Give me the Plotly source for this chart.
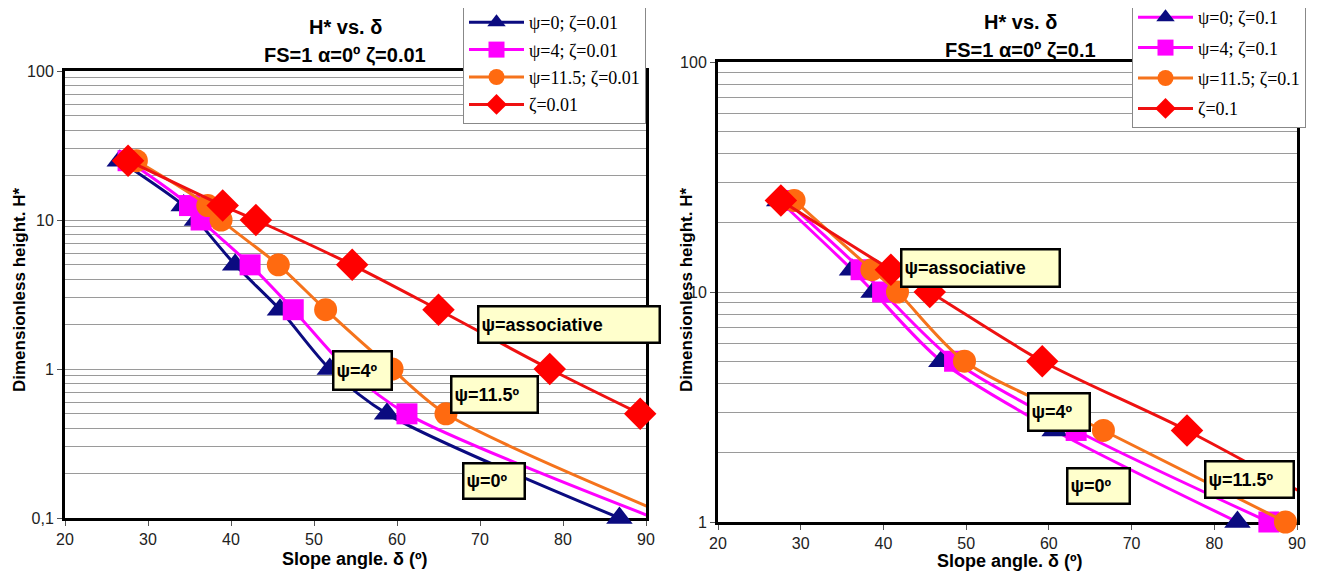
import plotly.graph_objects as go

# ---------------- data ----------------
# Left panel: zeta = 0.01
L_names = ["ψ=0; ζ=0.01", "ψ=4; ζ=0.01", "ψ=11.5; ζ=0.01", "ζ=0.01"]
L_psi0_x = [26.6, 34.3, 35.9, 40.5, 45.9, 51.9, 58.8, 86.8]
L_psi0_y = [25, 12.5, 10, 5, 2.5, 1, 0.5, 0.1]
L_psi4_x = [27.6, 35.0, 36.4, 42.3, 47.5, 54.0, 61.2, 91.0]
L_psi4_y = [25, 12.5, 10, 5, 2.5, 1, 0.5, 0.1]
L_psi11_x = [28.6, 37.2, 38.8, 45.7, 51.4, 59.4, 65.9, 93.5]
L_psi11_y = [25, 12.5, 10, 5, 2.5, 1, 0.5, 0.1]
L_assoc_x = [27.6, 39.0, 43.0, 54.6, 65.0, 78.4, 89.3]
L_assoc_y = [25, 12.5, 10, 5, 2.5, 1, 0.5]

# Right panel: zeta = 0.1
R_names = ["ψ=0; ζ=0.1", "ψ=4; ζ=0.1", "ψ=11.5; ζ=0.1", "ζ=0.1"]
R_psi0_x = [27.4, 36.2, 38.8, 47.0, 60.7, 82.8]
R_psi0_y = [25, 12.5, 10, 5, 2.5, 1]
R_psi4_x = [28.2, 37.3, 39.9, 48.6, 63.3, 86.6]
R_psi4_y = [25, 12.5, 10, 5, 2.5, 1]
R_psi11_x = [29.2, 38.6, 41.7, 49.8, 66.6, 88.6]
R_psi11_y = [25, 12.5, 10, 5, 2.5, 1]
R_assoc_x = [27.6, 40.9, 45.6, 59.2, 76.7, 97.0]
R_assoc_y = [25, 12.5, 10, 5, 2.5, 1]

x_ticks = [20, 30, 40, 50, 60, 70, 80, 90]
L_yticks = [0.1, 1, 10, 100]
L_yticktext = ["0,1", "1", "10", "100"]
R_yticks = [1, 10, 100]
R_yticktext = ["1", "10", "100"]

# ---------------- style ----------------
NAVY = "#0B0B80"
MAG = "#FF00FF"
ORANGE = "#F5731C"
RED = "#EE1111"
SANS = "Liberation Sans, Arial, sans-serif"
SERIF = "Liberation Serif, Times New Roman, serif"

# page body margin offset (px) and figure size
OFF = 8
W, H = 1318 - OFF, 575 - OFF


def px(p):
    return (p - OFF) / W


def py(p):
    return 1 - (p - OFF) / H


fig = go.Figure()


def sizes(xs, s, xmax=90.5):
    return [s if x <= xmax else 0 for x in xs]


def add(xs, ys, name, line_color, marker_color, symbol, msize, xa, ya, legend, grp):
    fig.add_trace(go.Scatter(
        x=xs, y=ys, name=name, mode="lines+markers",
        line=dict(color=line_color, width=3, shape="spline", smoothing=0.8),
        marker=dict(symbol=symbol, color=marker_color, size=sizes(xs, msize),
                    opacity=1, line=dict(width=0)),
        xaxis=xa, yaxis=ya, legend=legend, legendgroup=grp, cliponaxis=False,
    ))


add(L_psi0_x, L_psi0_y, L_names[0], NAVY, NAVY, "triangle-up", 23, "x", "y", "legend", "l1")
add(L_psi4_x, L_psi4_y, L_names[1], MAG, MAG, "square", 21, "x", "y", "legend", "l2")
add(L_psi11_x, L_psi11_y, L_names[2], ORANGE, "#FF6A10", "circle", 23, "x", "y", "legend", "l3")
add(L_assoc_x, L_assoc_y, L_names[3], RED, "#FF0000", "diamond", 25, "x", "y", "legend", "l4")

add(R_psi0_x, R_psi0_y, R_names[0], MAG, NAVY, "triangle-up", 23, "x2", "y2", "legend2", "r1")
add(R_psi4_x, R_psi4_y, R_names[1], MAG, MAG, "square", 21, "x2", "y2", "legend2", "r2")
add(R_psi11_x, R_psi11_y, R_names[2], ORANGE, "#FF6A10", "circle", 23, "x2", "y2", "legend2", "r3")
add(R_assoc_x, R_assoc_y, R_names[3], RED, "#FF0000", "diamond", 25, "x2", "y2", "legend2", "r4")


def minor_vals(lo, hi):
    vals = []
    d = lo
    while d < hi:
        for k in range(2, 10):
            vals.append(k * d)
        d *= 10
    return vals


def xaxis(domain, anchor):
    return dict(domain=domain, anchor=anchor, range=[20, 90], tickvals=x_ticks,
                showgrid=False, showline=True, linecolor="black", linewidth=3,
                mirror=True, ticks="outside", ticklen=5, tickcolor="#555",
                tickfont=dict(family=SANS, size=16, color="#222"), zeroline=False,
                layer="below traces", automargin=False)


def yaxis(domain, anchor, rng, tv, tt, lo, hi):
    return dict(domain=domain, anchor=anchor, type="log", range=rng, tickvals=tv,
                ticktext=tt, showgrid=True, gridcolor="#9a9a9a", gridwidth=1,
                showline=True, linecolor="black", linewidth=3, mirror=True,
                ticks="outside", ticklen=5, tickcolor="#555",
                tickfont=dict(family=SANS, size=16, color="#222"), zeroline=False,
                minor=dict(tickmode="array", tickvals=minor_vals(lo, hi),
                           showgrid=True, gridcolor="#9a9a9a", gridwidth=1, ticks=""),
                layer="below traces", automargin=False)


leg = dict(xanchor="left", yanchor="top", bgcolor="white", bordercolor="#888",
           borderwidth=1, font=dict(family=SERIF, size=18, color="black"),
           itemwidth=55)
fig.update_layout(
    width=W, height=H, margin=dict(l=0, r=0, t=0, b=0, autoexpand=False),
    paper_bgcolor="white", plot_bgcolor="white",
    xaxis=xaxis([px(65), px(646)], "y"),
    yaxis=yaxis([py(518), py(71)], "x", [-1, 2], L_yticks, L_yticktext, 0.1, 100),
    xaxis2=xaxis([px(718), px(1297)], "y2"),
    yaxis2=yaxis([py(522), py(62)], "x2", [0, 2], R_yticks, R_yticktext, 1, 100),
    legend=dict(leg, x=px(463), y=py(3), tracegroupgap=1),
    legend2=dict(leg, x=px(1132), y=py(-2), tracegroupgap=4),
    showlegend=True,
)

ann = []


def title(text, xp, yp, size=20):
    ann.append(dict(text=text, x=px(xp), y=py(yp), xref="paper", yref="paper",
                    showarrow=False, font=dict(family=SANS, size=size, color="black"),
                    xanchor="center", yanchor="middle"))


title("<b>H* vs. δ</b>", 345, 27)
title("<b>FS=1 α=0º ζ=0.01</b>", 345, 55)
title("<b>H* vs. δ</b>", 1020, 22)
title("<b>FS=1 α=0º ζ=0.1</b>", 1020, 50)
title("<b>Slope angle. δ (º)</b>", 355, 559, 18)
title("<b>Slope angle. δ (º)</b>", 1010, 561, 18)
for xp, yp in [(19, 290), (686, 290)]:
    ann.append(dict(text="<b>Dimensionless height. H*</b>", x=px(xp), y=py(yp),
                    xref="paper", yref="paper", showarrow=False, textangle=-90,
                    font=dict(family=SANS, size=17, color="black"),
                    xanchor="center", yanchor="middle"))


def label(text, x, logy, xa, ya, w, h):
    ann.append(dict(text="<b>" + text + "</b>", x=x, y=logy, xref=xa, yref=ya,
                    showarrow=False, font=dict(family=SANS, size=18, color="black"),
                    bgcolor="#FFFFCC", bordercolor="black", borderwidth=2.5,
                    borderpad=2, width=w, height=h, align="left", valign="middle"))


label("ψ=associative", 80.7, 0.299, "x", "y", 175, 30)
label("ψ=4º", 55.8, -0.011, "x", "y", 52, 32)
label("ψ=11.5º", 71.7, -0.172, "x", "y", 80, 30)
label("ψ=0º", 71.7, -0.75, "x", "y", 55, 29)

label("ψ=associative", 51.7, 1.106, "x2", "y2", 152, 31)
label("ψ=4º", 61.2, 0.477, "x2", "y2", 55, 31)
label("ψ=0º", 66.0, 0.156, "x2", "y2", 56, 29)
label("ψ=11.5º", 84.2, 0.186, "x2", "y2", 82, 30)

fig.update_layout(annotations=ann)
fig.write_html("out.html")
